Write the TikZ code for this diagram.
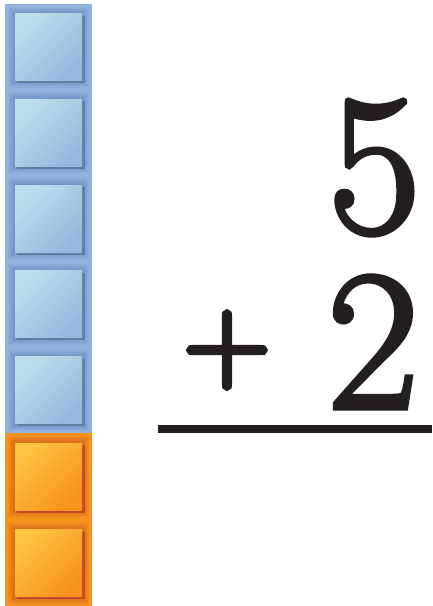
\documentclass[tikz,border=0pt]{standalone}
\usepackage{fontspec}
\usepackage{tikz}
\usetikzlibrary{positioning}
\newfontfamily\sumfont{Latin Modern Roman}[FakeBold=2.5]
\newfontfamily\plusfont{Latin Modern Roman}[FakeBold=5]
\definecolor{cubeblue}{HTML}{93B3DE}
\definecolor{cubebluelt}{HTML}{BEDDEA}
\definecolor{cubebluedk}{HTML}{9AB6E0}
\definecolor{cubeblueglow}{HTML}{4F70A8}
\definecolor{cubeblueedge}{HTML}{5F7F9E}
\definecolor{cubeorange}{HTML}{F5931F}
\definecolor{cubeorangelt}{HTML}{FFC440}
\definecolor{cubeorangedk}{HTML}{F7921E}
\definecolor{cubeorangeglow}{HTML}{B8401F}
\definecolor{cubeorangeedge}{HTML}{C4472A}
\definecolor{inkdark}{HTML}{231F20}

\begin{document}
\begin{tikzpicture}[x=1pt, y=-1pt]
  \tikzset{sq/.style={minimum size=67pt, inner sep=0, outer sep=0},
           bluesq/.style={sq, top color=cubebluelt, bottom color=cubebluedk, shading angle=45},
           orangesq/.style={sq, top color=cubeorangelt, bottom color=cubeorangedk, shading angle=45},
           digit/.style={inner sep=0, anchor=base, text=inkdark, font=\sumfont\fontsize{200}{200}\selectfont}}
  \useasboundingbox (0,0) rectangle (432,606);
  % column
  \fill[cubeblue] (5,4) rectangle (92,433);
  \fill[cubeorange] (5,433) rectangle (92,606);
  % blue cubes
  \foreach \i/\y in {1/47, 2/132.8, 3/218.6, 4/304.4, 5/390.2} {
    \foreach \g in {1,...,7} \fill[cubeblueglow, opacity=0.07] (48.5-33.5-\g, \y-33.5-\g) rectangle (48.5+33.5+\g, \y+33.5+\g);
    \fill[cubeblueedge] (48.5-31.5, \y-31.5) rectangle (48.5+36, \y+36);
    \node[bluesq] (b\i) at (48.5, \y) {};
  }
  % orange cubes
  \foreach \i/\y in {1/476.5, 2/563} {
    \foreach \g in {1,...,7} \fill[cubeorangeglow, opacity=0.07] (48.5-33.5-\g, \y-33.5-\g) rectangle (48.5+33.5+\g, \y+33.5+\g);
    \fill[cubeorangeedge] (48.5-31.5, \y-31.5) rectangle (48.5+36, \y+36);
    \node[orangesq] (o\i) at (48.5, \y) {};
  }
  % sum
  \node[digit] (five) at (374.5, 232) {5};
  \node[digit] (two) at (373, 408) {2};
  \node[digit, font=\plusfont\fontsize{120}{120}\selectfont] (plus) at (227, 380) {+};
  \coordinate (barl) at (158, 429);
  \coordinate (barr) at (432, 429);
  \draw[inkdark, line width=8pt] (barl) -- (barr);
\end{tikzpicture}
\end{document}
